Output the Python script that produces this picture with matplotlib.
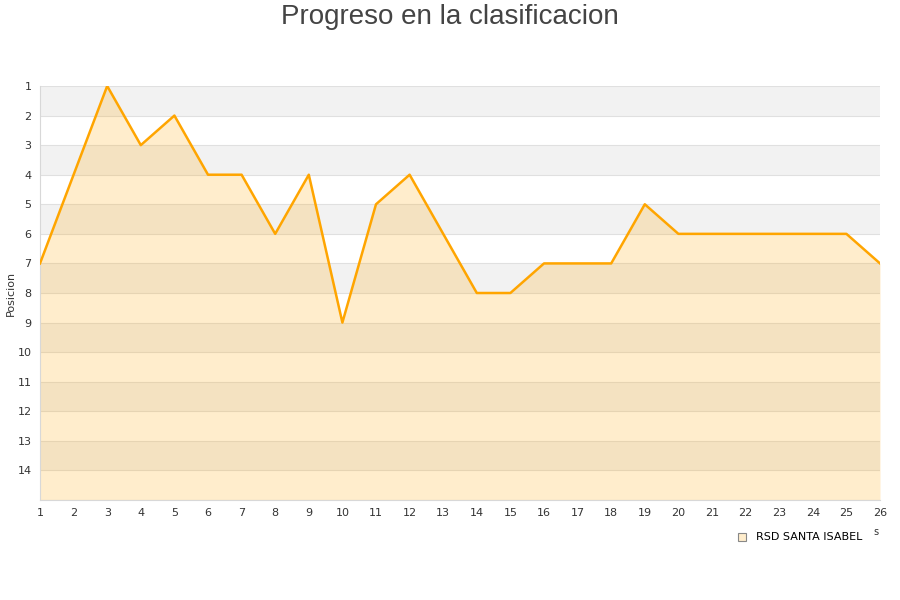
import matplotlib.pyplot as plt

jornadas = list(range(1, 27))
posicion = [7, 4, 1, 3, 2, 4, 4, 6, 4, 9, 5, 4, 6, 8, 8, 7, 7, 7, 5, 6, 6, 6, 6, 6, 6, 7]
equipo = "RSD SANTA ISABEL"
titulo = "Progreso en la clasificacion"

fig = plt.figure(figsize=(9, 6), dpi=100)
ax = fig.add_axes([40 / 900, 1 - 500 / 600, 840 / 900, 414 / 600])

# bandas alternas de fondo
for y in range(1, 15, 2):
    ax.axhspan(y, y + 1, color="#f2f2f2", zorder=0, lw=0)
for y in range(1, 16):
    ax.axhline(y, color="#e0e0e0", lw=0.8, zorder=1)

ax.fill_between(jornadas, posicion, 15, color="orange", alpha=0.2, lw=0, zorder=2)
ax.plot(jornadas, posicion, color="#ffa500", lw=1.8, zorder=3)

ax.set_xlim(1, 26)
ax.set_ylim(15, 1)
ax.set_xticks(jornadas)
ax.set_yticks(range(1, 15))
ax.tick_params(length=0, labelsize=8, colors="#333333", pad=6)
for s in ["top", "right"]:
    ax.spines[s].set_visible(False)
for s in ["left", "bottom"]:
    ax.spines[s].set_color("#d8d8d8")

fig.text(11 / 900, 1 - 293 / 600, "Posicion", rotation=90, ha="center", va="center",
         fontsize=8, color="#333333")

fig.text(0.5, 1 - 17 / 600, titulo, ha="center", va="center", fontsize=20,
         color="#444444", family="Liberation Sans")

# leyenda
fig.patches.append(plt.Rectangle((738 / 900, 1 - 541 / 600), 8 / 900, 8 / 600,
                                 transform=fig.transFigure, facecolor="#ffedcc",
                                 edgecolor="#888888", lw=0.8))
fig.text(756 / 900, 1 - 537 / 600, equipo, ha="left", va="center", fontsize=8, color="black")
fig.text(876 / 900, 1 - 532 / 600, "s", ha="center", va="center", fontsize=7, color="#333333")

fig.savefig("out.png", dpi=100)
